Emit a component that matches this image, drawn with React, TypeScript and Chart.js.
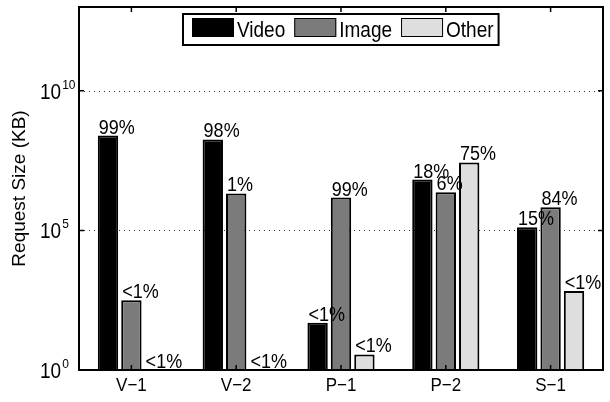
import React, { useEffect, useRef } from 'react';
import { Chart, registerables } from 'chart.js';

Chart.register(...registerables);

const categories = ['V\u22121', 'V\u22122', 'P\u22121', 'P\u22122', 'S\u22121'];
const seriesNames = ['Video', 'Image', 'Other'];
const seriesColors = ['#000000', '#7b7b7b', '#dedede'];
const videoSizes = [2.5e8, 1.8e8, 49, 6.6e6, 1.3e5];
const imageSizes = [316, 2.1e6, 1.5e6, 2.3e6, 6.8e5];
const otherSizes = [1, 1, 3.6, 2.7e7, 680];
const videoShares = ['99%', '98%', '<1%', '18%', '15%'];
const imageShares = ['<1%', '1%', '99%', '6%', '84%'];
const otherShares = ['<1%', '<1%', '<1%', '75%', '<1%'];
const yTickExponents = [0, 5, 10];
const yAxisTitle = 'Request Size (KB)';

const FONT = '"Liberation Sans", Arial, Helvetica, sans-serif';
const shareLabels = [videoShares, imageShares, otherShares];
const TEXT_STRETCH = 1.12;

function tallText(ctx: any, text: string, x: number, y: number) {
  ctx.save();
  ctx.translate(x, y);
  ctx.scale(1, TEXT_STRETCH);
  ctx.fillText(text, 0, 0);
  ctx.restore();
}

const decorPlugin = {
  id: 'decor',
  beforeDatasetsDraw(chart: any) {
    const { ctx, chartArea: a, scales } = chart;
    const y = scales.y;
    ctx.save();
    ctx.strokeStyle = '#333';
    ctx.lineWidth = 1;
    ctx.setLineDash([1, 4]);
    yTickExponents.forEach((e) => {
      if (e === 0) return;
      const py = Math.round(y.getPixelForValue(Math.pow(10, e))) + 0.5;
      ctx.beginPath();
      ctx.moveTo(a.left, py);
      ctx.lineTo(a.right, py);
      ctx.stroke();
    });
    ctx.restore();
  },
  afterDatasetsDraw(chart: any) {
    const { ctx, chartArea: a, scales } = chart;
    const x = scales.x;
    const y = scales.y;
    ctx.save();

    // bar value labels
    ctx.fillStyle = '#000';
    ctx.font = `18px ${FONT}`;
    ctx.textAlign = 'left';
    ctx.textBaseline = 'alphabetic';
    chart.data.datasets.forEach((_d: any, i: number) => {
      const meta = chart.getDatasetMeta(i);
      meta.data.forEach((bar: any, j: number) => {
        const p = bar.getProps(['x', 'y', 'width'], true);
        tallText(ctx, shareLabels[i][j], p.x - p.width / 2 + 1, p.y - 2);
      });
    });

    // axes box
    ctx.strokeStyle = '#000';
    ctx.lineWidth = 2;
    ctx.strokeRect(a.left, a.top, a.right - a.left, a.bottom - a.top);

    // tick marks
    ctx.lineWidth = 1.5;
    yTickExponents.forEach((e) => {
      const py = y.getPixelForValue(Math.pow(10, e));
      ctx.beginPath();
      ctx.moveTo(a.left, py);
      ctx.lineTo(a.left + 5, py);
      ctx.moveTo(a.right, py);
      ctx.lineTo(a.right - 5, py);
      ctx.stroke();
    });
    categories.forEach((_c, i) => {
      const px = x.getPixelForTick(i);
      ctx.beginPath();
      ctx.moveTo(px, a.top);
      ctx.lineTo(px, a.top + 5);
      ctx.moveTo(px, a.bottom);
      ctx.lineTo(px, a.bottom - 5);
      ctx.stroke();
    });

    // y tick labels 10^e
    yTickExponents.forEach((e) => {
      const py = y.getPixelForValue(Math.pow(10, e));
      ctx.font = `19px ${FONT}`;
      ctx.textAlign = 'left';
      tallText(ctx, '10', 40, py + 8);
      const w = ctx.measureText('10').width;
      ctx.font = `12px ${FONT}`;
      tallText(ctx, String(e), 40 + w + 1, py - 2);
    });

    // x tick labels
    ctx.font = `17px ${FONT}`;
    ctx.textAlign = 'center';
    categories.forEach((c, i) => {
      tallText(ctx, c, x.getPixelForTick(i), a.bottom + 21);
    });

    // y axis title
    ctx.save();
    ctx.translate(20, (a.top + a.bottom) / 2);
    ctx.rotate(-Math.PI / 2);
    ctx.font = `19px ${FONT}`;
    ctx.textAlign = 'center';
    ctx.textBaseline = 'middle';
    ctx.fillText(yAxisTitle, 0, 0);
    ctx.restore();

    // legend
    ctx.font = `19px ${FONT}`;
    ctx.textAlign = 'left';
    ctx.textBaseline = 'alphabetic';
    const ds = chart.data.datasets;
    const sw = 42, sh = 19, gapText = 3, gapItem = 9, padL = 9, padR = 5;
    const widths = ds.map((d: any) => ctx.measureText(d.label).width);
    let total = padL + padR;
    widths.forEach((w: number, i: number) => {
      total += sw + gapText + w + (i < ds.length - 1 ? gapItem : 0);
    });
    const bx = Math.round((a.left + a.right) / 2 - total / 2);
    const by = 14;
    const bh = 31;
    ctx.fillStyle = '#fff';
    ctx.fillRect(bx, by, total, bh);
    ctx.strokeStyle = '#000';
    ctx.lineWidth = 2;
    ctx.strokeRect(bx, by, total, bh);
    let cx = bx + padL;
    ds.forEach((d: any, i: number) => {
      ctx.fillStyle = d.backgroundColor;
      ctx.fillRect(cx, by + 4, sw, sh);
      ctx.lineWidth = 1;
      ctx.strokeStyle = '#000';
      ctx.strokeRect(cx + 0.5, by + 4.5, sw - 1, sh - 1);
      cx += sw + gapText;
      ctx.fillStyle = '#000';
      tallText(ctx, d.label, cx, by + 23);
      cx += widths[i] + gapItem;
    });

    ctx.restore();
  },
};

export default function App() {
  const canvasRef = useRef<HTMLCanvasElement | null>(null);

  useEffect(() => {
    const canvas = canvasRef.current;
    if (!canvas) return;
    const seriesData = [videoSizes, imageSizes, otherSizes];
    const chart = new Chart(canvas, {
      type: 'bar',
      data: {
        labels: categories,
        datasets: seriesNames.map((name, i) => ({
          label: name,
          data: seriesData[i],
          backgroundColor: seriesColors[i],
          borderColor: '#000000',
          borderWidth: 2,
          categoryPercentage: 0.67,
          barPercentage: 0.87,
        })),
      },
      options: {
        responsive: false,
        maintainAspectRatio: false,
        animation: false,
        devicePixelRatio: 1,
        layout: { padding: { top: 7, right: 7, left: 0, bottom: 0 } },
        plugins: { legend: { display: false }, tooltip: { enabled: false } },
        scales: {
          x: {
            ticks: { display: false },
            grid: { display: false },
            border: { display: false },
            afterFit: (s: any) => {
              s.height = 32;
            },
          },
          y: {
            type: 'logarithmic',
            min: 1,
            max: 1e13,
            ticks: { display: false },
            grid: { display: false },
            border: { display: false },
            afterFit: (s: any) => {
              s.width = 79;
            },
          },
        },
      } as any,
      plugins: [decorPlugin],
    });
    return () => chart.destroy();
  }, []);

  return (
    <div style={{ position: 'fixed', left: 0, top: 0, width: 610, height: 402, background: '#fff' }}>
      <canvas ref={canvasRef} width={610} height={402} style={{ width: 610, height: 402 }} />
    </div>
  );
}
